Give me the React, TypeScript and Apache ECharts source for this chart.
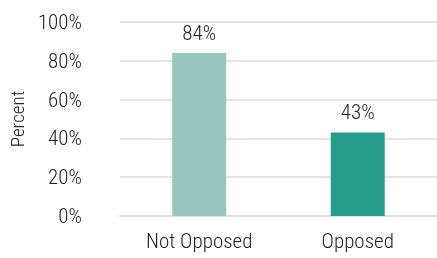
import React, { useEffect, useRef } from "react";
import * as echarts from "echarts";

const categories = ["Not Opposed", "Opposed"];
const values = [84, 43];
const barColors = ["#99c6bf", "#259c8b"];
const yTicks = [0, 20, 40, 60, 80, 100];

const FONT = "'Roboto Condensed', 'Liberation Sans Narrow', 'DejaVu Sans Condensed', Roboto, sans-serif";

export default function App() {
  const ref = useRef<HTMLDivElement>(null);
  useEffect(() => {
    if (!ref.current) return;
    const chart = echarts.init(ref.current, undefined, { renderer: "svg" });
    chart.setOption({
      animation: false,
      grid: { left: 118, right: 0, top: 22, bottom: 42 },
      xAxis: {
        type: "category",
        data: categories,
        axisLine: { show: true, lineStyle: { color: "#dddddd", width: 1.5 } },
        axisTick: { show: false },
        axisLabel: { color: "#222222", fontSize: 21, fontWeight: 300, fontFamily: FONT, margin: 14 },
      },
      yAxis: {
        type: "value",
        min: yTicks[0],
        max: yTicks[yTicks.length - 1],
        interval: 20,
        name: "Percent",
        nameLocation: "middle",
        nameRotate: 90,
        nameGap: 92,
        nameTextStyle: { color: "#222222", fontSize: 19, fontWeight: 300, fontFamily: FONT },
        axisLine: { show: false },
        axisTick: { show: false },
        splitLine: { lineStyle: { color: "#dddddd", width: 1.5 } },
        axisLabel: {
          color: "#222222",
          fontSize: 21,
          fontWeight: 300,
          fontFamily: FONT,
          margin: 38,
          formatter: (v: number) => v + "%",
        },
      },
      series: [
        {
          type: "bar",
          barWidth: 54,
          data: values.map((v, i) => ({ value: v, itemStyle: { color: barColors[i] } })),
          label: {
            show: true,
            position: "top",
            distance: 10,
            color: "#222222",
            fontSize: 21,
            fontWeight: 300,
            fontFamily: FONT,
            formatter: (p: any) => p.value + "%",
          },
        },
      ],
    });
    return () => chart.dispose();
  }, []);
  return <div ref={ref} style={{ position: "fixed", left: 0, top: 0, width: 437, height: 258 }} />;
}
